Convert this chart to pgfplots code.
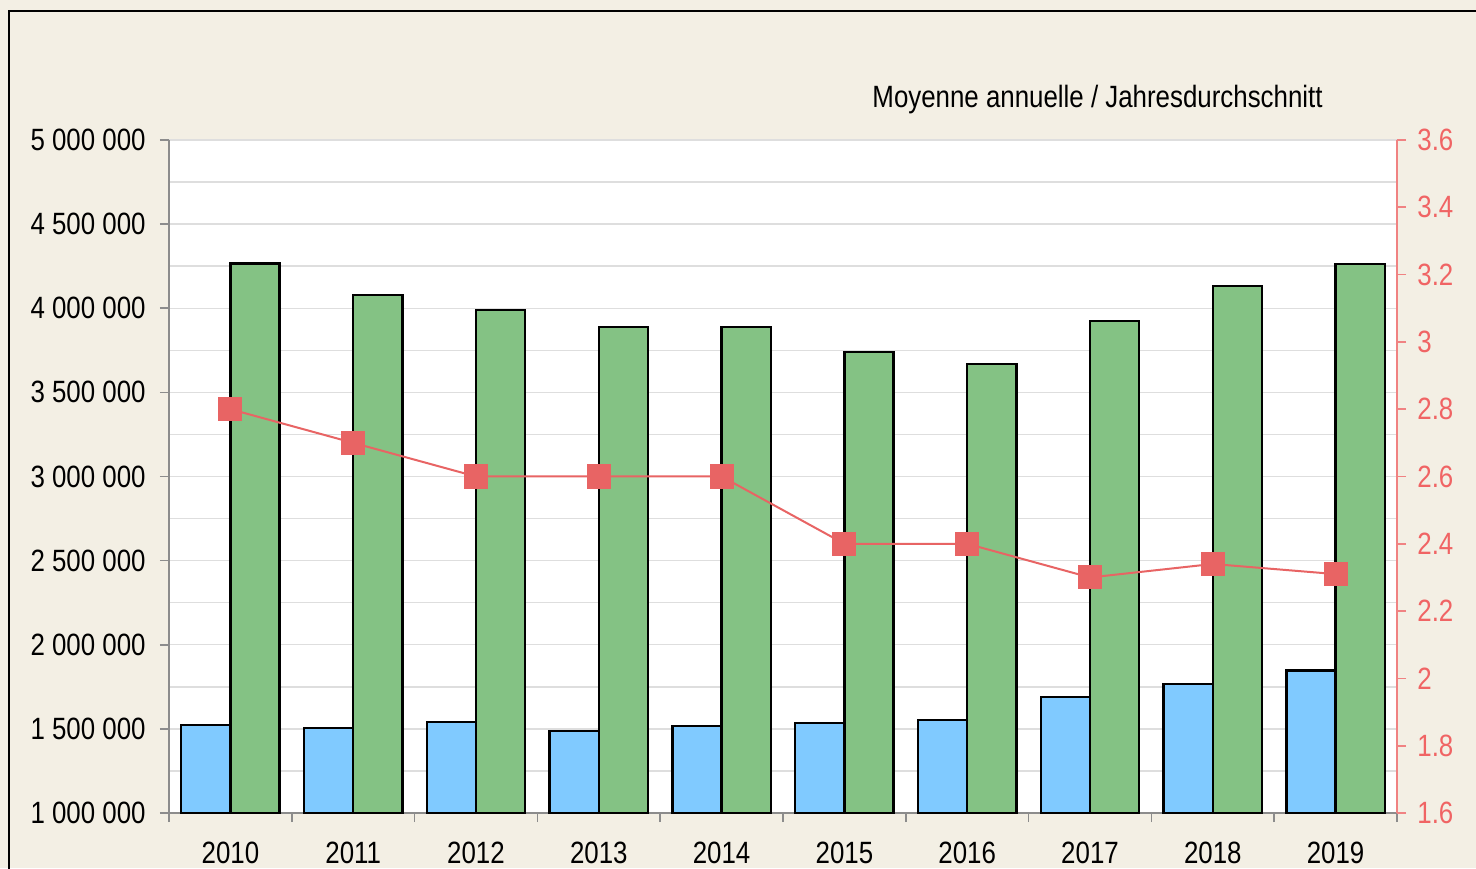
\documentclass[border=0pt]{standalone}
\usepackage{fontspec}
\setmainfont{Liberation Sans}[FakeStretch=0.84]
\usepackage{pgfplots}
\pgfplotsset{compat=1.18}
\definecolor{bg}{RGB}{243,239,228}
\definecolor{barblue}{RGB}{128,202,255}
\definecolor{bargreen}{RGB}{132,194,132}
\definecolor{linered}{RGB}{232,100,100}
\definecolor{redlabel}{RGB}{240,100,100}
\definecolor{redaxis}{RGB}{240,130,130}
\definecolor{axisgray}{RGB}{140,140,140}
\definecolor{gridgray}{RGB}{222,222,222}
\begin{document}
\fontsize{15.4pt}{18pt}\selectfont
\begin{tikzpicture}[x=1pt,y=1pt]
\path[use as bounding box] (0,0) rectangle (738,434);
\fill[bg] (0,0) rectangle (738,434);
\draw[black, line width=0.9pt] (4.5,-2) -- (4.5,428.5) -- (740,428.5);
\node[anchor=base east, inner sep=0pt] at (661.5,380) {Moyenne annuelle / Jahresdurchschnitt};
\begin{axis}[
  at={(84.5pt,27.5pt)}, anchor=south west, scale only axis,
  width=614pt, height=336.5pt,
  xmin=-0.5, xmax=9.5, ymin=1000000, ymax=5000000,
  axis x line*=bottom, axis y line*=left,
  axis line style={draw=axisgray, line width=0.8pt, -},
  axis background/.style={fill=white},
  xtick={-0.5,0.5,1.5,2.5,3.5,4.5,5.5,6.5,7.5,8.5,9.5},
  xticklabels={},
  extra x ticks={0,1,2,3,4,5,6,7,8,9},
  extra x tick labels={2010,2011,2012,2013,2014,2015,2016,2017,2018,2019},
  extra x tick style={tick style={draw=none}},
  scaled y ticks=false,
  ytick={1000000,1500000,2000000,2500000,3000000,3500000,4000000,4500000,5000000},
  yticklabels={1 000 000,1 500 000,2 000 000,2 500 000,3 000 000,3 500 000,4 000 000,4 500 000,5 000 000},
  minor y tick num=1,
  ymajorgrids, yminorgrids,
  major grid style={draw=gridgray, line width=0.7pt},
  minor grid style={draw=gridgray, line width=0.7pt},
  major tick length=4.5pt, minor tick length=0pt, tick align=outside,
  tick style={draw=axisgray, line width=0.8pt},
  yticklabel style={anchor=east, inner sep=0pt, xshift=-7pt},
  xticklabel style={anchor=north, inner sep=0pt, yshift=-10pt},
]
\addplot[ybar, bar width=0.4, bar shift=-0.2, fill=barblue, draw=black, line width=1.2pt]
  coordinates {(0,1523000) (1,1507000) (2,1541000) (3,1487000) (4,1517000) (5,1535000) (6,1553000) (7,1688000) (8,1767000) (9,1846000)};
\addplot[ybar, bar width=0.4, bar shift=0.2, fill=bargreen, draw=black, line width=1.2pt]
  coordinates {(0,4267000) (1,4080000) (2,3988000) (3,3889000) (4,3889000) (5,3740000) (6,3669000) (7,3924000) (8,4132000) (9,4263000)};
\end{axis}
\begin{axis}[
  at={(84.5pt,27.5pt)}, anchor=south west, scale only axis,
  width=614pt, height=336.5pt,
  xmin=-0.5, xmax=9.5, ymin=1.6, ymax=3.6,
  axis x line=none, axis y line*=right,
  axis line style={draw=redaxis, line width=0.8pt, -},
  ytick={1.6,1.8,2,2.2,2.4,2.6,2.8,3,3.2,3.4,3.6},
  yticklabels={1.6,1.8,2,2.2,2.4,2.6,2.8,3,3.2,3.4,3.6},
  yticklabel style={anchor=west, inner sep=0pt, xshift=5.5pt, text=redlabel},
  major tick length=4.5pt, tick align=outside,
  tick style={draw=redaxis, line width=0.8pt},
  clip=false,
]
\addplot[color=linered, line width=1pt, mark=square*, mark size=5.5pt, mark options={draw=none, fill=linered}]
  coordinates {(0,2.8) (1,2.7) (2,2.6) (3,2.6) (4,2.6) (5,2.4) (6,2.4) (7,2.3) (8,2.34) (9,2.31)};
\end{axis}
\end{tikzpicture}
\end{document}
